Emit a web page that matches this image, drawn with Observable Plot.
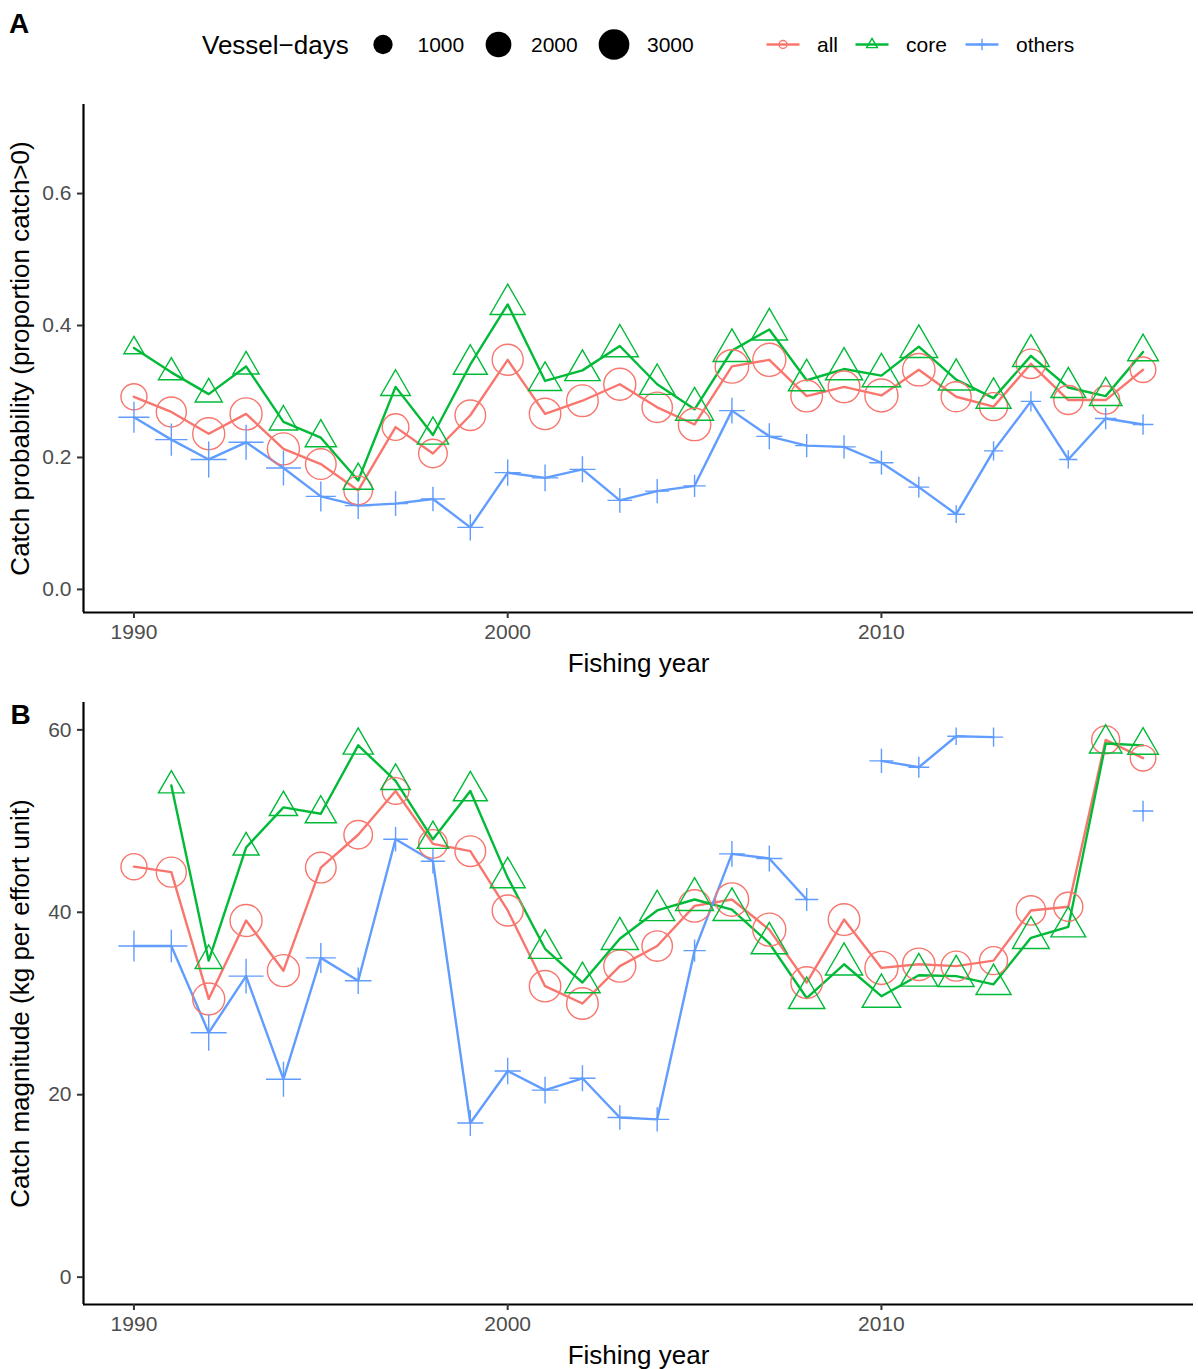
<!DOCTYPE html>
<html>
<head>
<meta charset="utf-8">
<script src="https://cdn.jsdelivr.net/npm/d3@7"></script>
<script src="https://cdn.jsdelivr.net/npm/@observablehq/plot@0.6"></script>
<style>
  body { margin: 0; background: #ffffff; }
  #wrap { position: relative; width: 1198px; height: 1369px; background: #ffffff; }
  #legend { position: absolute; left: 0; top: 0; }
  #panelA { position: absolute; left: 0; top: 90px; }
  #panelB { position: absolute; left: 0; top: 690px; }
</style>
</head>
<body>
<div id="wrap">
  <div id="legend"></div>
  <div id="panelA"></div>
  <div id="panelB"></div>
</div>
<script>
// ---- data -------------------------------------------------------------
const years = [1990, 1991, 1992, 1993, 1994, 1995, 1996, 1997, 1998, 1999,
               2000, 2001, 2002, 2003, 2004, 2005, 2006, 2007, 2008, 2009,
               2010, 2011, 2012, 2013, 2014, 2015, 2016, 2017];
const seriesNames = ["all", "core", "others"];

// Catch probability (proportion of records with catch > 0)
const probAll    = [0.292, 0.269, 0.236, 0.266, 0.213, 0.190, 0.150, 0.246, 0.206, 0.264,
                    0.348, 0.266, 0.286, 0.311, 0.276, 0.250, 0.338, 0.348, 0.293, 0.307,
                    0.294, 0.333, 0.292, 0.277, 0.342, 0.287, 0.287, 0.333];
const probCore   = [0.366, 0.329, 0.296, 0.338, 0.254, 0.230, 0.165, 0.307, 0.234, 0.341,
                    0.432, 0.316, 0.332, 0.369, 0.311, 0.273, 0.362, 0.394, 0.317, 0.334,
                    0.324, 0.368, 0.318, 0.290, 0.354, 0.306, 0.293, 0.360];
const probOthers = [0.261, 0.227, 0.197, 0.223, 0.184, 0.141, 0.127, 0.130, 0.137, 0.094,
                    0.177, 0.169, 0.182, 0.135, 0.149, 0.157, 0.271, 0.232, 0.218, 0.216,
                    0.192, 0.155, 0.114, 0.210, 0.285, 0.197, 0.259, 0.250];

// Catch magnitude (kg per effort unit); null = no estimate
const magAll    = [45.0, 44.4, 30.5, 39.1, 33.6, 44.9, 48.5, 53.3, 47.5, 46.7,
                   40.2, 31.9, 30.0, 34.1, 36.3, 40.7, 41.4, 38.1, 32.3, 39.2,
                   33.9, 34.3, 34.1, 34.7, 40.2, 40.6, 58.9, 56.9];
const magCore   = [null, 53.9, 34.7, 47.1, 51.5, 50.8, 58.3, 54.4, 48.0, 53.3,
                   43.8, 36.0, 32.3, 37.1, 40.2, 41.4, 40.3, 36.6, 30.6, 34.3,
                   30.8, 33.1, 33.0, 32.1, 37.2, 38.4, 58.5, 58.3];
const magOthers = [36.3, 36.3, 26.8, 33.0, 21.7, 35.0, 32.5, 48.0, 45.6, 16.9,
                   22.6, 20.5, 21.8, 17.5, 17.3, 35.8, 46.4, 45.9, 41.4, null,
                   56.6, 55.9, 59.3, 59.2, null, null, null, 51.1];

// Vessel-days per fishing year
const vdAll    = [2050, 2850, 3300, 3300, 3300, 2980, 2550, 2160, 2550, 2980,
                  3070, 3160, 3210, 3300, 2940, 3390, 3630, 3540, 3210, 3210,
                  3540, 3390, 2850, 2430, 2720, 2640, 2430, 1970];
const vdCore   = [520, 970, 1110, 1010, 1230, 1560, 1440, 1380, 1580, 1920,
                  2050, 1800, 2100, 2350, 2050, 2470, 2430, 2240, 2240, 2350,
                  2550, 2430, 2160, 2050, 2290, 2010, 1730, 1500];
const vdOthers = [1380, 1510, 1940, 1820, 1820, 1260, 940, 770, 750, 890,
                  910, 940, 890, 770, 730, 600, 860, 890, 660, 660,
                  730, 500, 320, 400, 470, 350, 540, 490];

const xTicks = [1990, 2000, 2010];
const probTicks = [0, 0.2, 0.4, 0.6];
const magTicks = [0, 20, 40, 60];
const sizeBreaks = [1000, 2000, 3000];
const sizeTitle = "Vessel\u2212days";
const xTitle = "Fishing year";
const probTitle = "Catch probability (proportion catch>0)";
const magTitle = "Catch magnitude (kg per effort unit)";

// ---- styling ----------------------------------------------------------
const FONT = '"Liberation Sans", Arial, Helvetica, sans-serif';
const seriesColors = ["#F8766D", "#00BA38", "#619CFF"];
const xDomain = [1988.65, 2018.35];
const sizeDomain = [0, 4000];
const sizeRange = [1.87, 17.43];
const LINE_W = 2.4;
const POINT_W = 1.4;

// R-style point shapes: open triangle (pch 2) and plus (pch 3)
const triangle = {
  draw(ctx, size) {
    const R = Math.sqrt(size / Math.PI);
    ctx.moveTo(0, -1.555 * R);
    ctx.lineTo(1.347 * R, 0.778 * R);
    ctx.lineTo(-1.347 * R, 0.778 * R);
    ctx.closePath();
  }
};
const plus = {
  draw(ctx, size) {
    const h = Math.SQRT2 * Math.sqrt(size / Math.PI);
    ctx.moveTo(-h, 0); ctx.lineTo(h, 0);
    ctx.moveTo(0, -h); ctx.lineTo(0, h);
  }
};
const symbols = [d3.symbolCircle, triangle, plus];
const vesselDays = [vdAll, vdCore, vdOthers];

function panel({values, yDomain, yTicks, yFormat, yTitle, tag, height, marginTop, marginBottom}) {
  const rows = seriesNames.flatMap((s, k) =>
    years.map((year, i) => ({year, series: s, value: values[k][i], vd: vesselDays[k][i]})));
  const marks = [
    Plot.ruleY([yDomain[0]], {stroke: "black", strokeWidth: 2.2}),
    Plot.ruleX([xDomain[0]], {stroke: "black", strokeWidth: 2.2}),
    Plot.axisX({ticks: xTicks, tickFormat: "d", tickSize: 6, tickPadding: 6, fontSize: 21,
                stroke: "#333333", fill: "#4D4D4D", strokeWidth: 2, label: null}),
    Plot.axisY({ticks: yTicks, tickFormat: yFormat, tickSize: 6, tickPadding: 6, fontSize: 21,
                stroke: "#333333", fill: "#4D4D4D", strokeWidth: 2, label: null}),
    Plot.line(rows, {x: "year", y: "value", stroke: "series", strokeWidth: LINE_W})
  ];
  seriesNames.forEach((s, k) => {
    marks.push(Plot.dot(rows.filter(d => d.series === s), {
      x: "year", y: "value", r: "vd", stroke: "series", fill: "none",
      symbol: symbols[k], strokeWidth: POINT_W
    }));
  });
  marks.push(
    Plot.text([xTitle], {frameAnchor: "bottom", dy: 59, lineAnchor: "bottom",
                         textAnchor: "middle", fontSize: 26, fill: "black"}),
    Plot.text([yTitle], {frameAnchor: "left", dx: -63, rotate: -90, textAnchor: "middle",
                         fontSize: 26, fill: "black"})
  );
  if (tag) {
    marks.push(Plot.text([tag], {frameAnchor: "top-left", dx: -73, dy: 21, lineAnchor: "bottom",
                                 textAnchor: "start", fontSize: 28, fontWeight: "bold", fill: "black"}));
  }
  return Plot.plot({
    width: 1198, height, marginLeft: 83, marginRight: 5, marginTop, marginBottom,
    style: {fontFamily: FONT, background: "white", overflow: "visible"},
    x: {domain: xDomain},
    y: {domain: yDomain},
    r: {type: "sqrt", domain: sizeDomain, range: sizeRange},
    color: {domain: seriesNames, range: seriesColors},
    marks
  });
}

document.getElementById("panelA").append(panel({
  values: [probAll, probCore, probOthers],
  yDomain: [-0.035, 0.735], yTicks: probTicks, yFormat: ".1f", yTitle: probTitle,
  tag: null, height: 600, marginTop: 14, marginBottom: 78
}));
document.getElementById("panelB").append(panel({
  values: [magAll, magCore, magOthers],
  yDomain: [-3, 63], yTicks: magTicks, yFormat: "d", yTitle: magTitle,
  tag: "B", height: 679, marginTop: 12, marginBottom: 65
}));

// ---- header: panel tag and legends -----------------------------------
const svg = d3.select("#legend").append("svg")
  .attr("width", 1198).attr("height", 90)
  .style("font-family", FONT);
svg.append("text").attr("x", 9).attr("y", 33)
  .attr("font-size", 28).attr("font-weight", "bold").text("A");

const rScale = d3.scaleSqrt(sizeDomain, sizeRange);
svg.append("text").attr("x", 202).attr("y", 53.5).attr("font-size", 26).text(sizeTitle);
const sizeKeyX = [383, 498.5, 614];
const sizeLabelX = [417.5, 531, 647];
sizeBreaks.forEach((v, i) => {
  svg.append("circle").attr("cx", sizeKeyX[i]).attr("cy", 44.5).attr("r", rScale(v)).attr("fill", "black");
  svg.append("text").attr("x", sizeLabelX[i]).attr("y", 52).attr("font-size", 21).text(String(v));
});

const colorKeyX = [783, 872, 982];
const keyR = 4;
seriesNames.forEach((s, k) => {
  const cx = colorKeyX[k];
  svg.append("line").attr("x1", cx - 16.5).attr("x2", cx + 16.5).attr("y1", 44.5).attr("y2", 44.5)
    .attr("stroke", seriesColors[k]).attr("stroke-width", LINE_W);
  svg.append("path")
    .attr("d", d3.symbol(symbols[k], Math.PI * keyR * keyR)())
    .attr("transform", `translate(${cx},44.5)`)
    .attr("fill", "none").attr("stroke", seriesColors[k]).attr("stroke-width", POINT_W);
  svg.append("text").attr("x", cx + 34).attr("y", 52).attr("font-size", 21).text(s);
});
</script>
</body>
</html>
